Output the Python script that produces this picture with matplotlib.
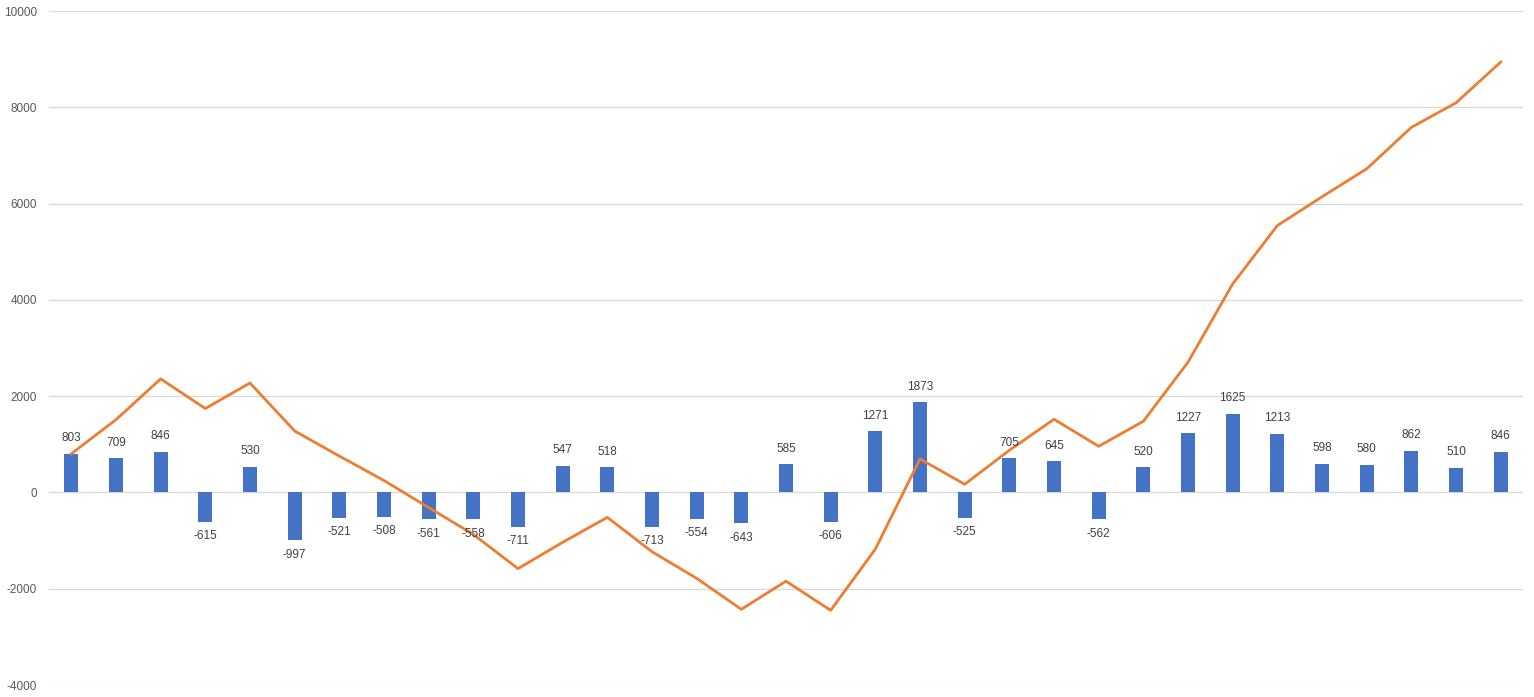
import numpy as np
import matplotlib.pyplot as plt

plt.rcParams['font.family'] = ['Liberation Sans', 'DejaVu Sans']
plt.rcParams['axes.unicode_minus'] = False

# monthly result (bars) and running total (line)
vals = [803, 709, 846, -615, 530, -997, -521, -508, -561, -558, -711,
        547, 518, -713, -554, -643, 585, -606, 1271, 1873, -525, 705,
        645, -562, 520, 1227, 1625, 1213, 598, 580, 862, 510, 846]
total = [803, 1512, 2358, 1743, 2273, 1276, 755, 247, -314, -872, -1583,
         -1036, -518, -1231, -1785, -2428, -1843, -2449, -1178, 695, 170,
         875, 1520, 958, 1478, 2705, 4330, 5543, 6141, 6721, 7583, 8093, 8939]
yticks = [-4000, -2000, 0, 2000, 4000, 6000, 8000, 10000]

x = np.arange(len(vals))

fig = plt.figure(figsize=(15.34, 6.97), dpi=100)
ax = fig.add_axes([49/1534, 12/697, (1523-49)/1534, (685-11)/697])

ax.bar(x, vals, width=0.31, color='#4472C4', zorder=2)
ax.plot(x, total, color='#ED7D31', lw=2.0, zorder=3, solid_joinstyle='round')

for xi, v in zip(x, vals):
    if v >= 0:
        ax.annotate(str(v), (xi, v), xytext=(0, 7), textcoords='offset points',
                    ha='center', va='bottom', fontsize=8.5, color='#404040')
    else:
        ax.annotate(str(v), (xi, v), xytext=(0, -6), textcoords='offset points',
                    ha='center', va='top', fontsize=8.5, color='#404040')

ax.set_xlim(-0.5, len(vals) - 0.5)
ax.set_ylim(-4000, 10000)
ax.set_yticks(yticks)
ax.set_xticks([])
ax.grid(axis='y', color='#d9d9d9', lw=0.9, zorder=0)
ax.set_axisbelow(True)
for s in ax.spines.values():
    s.set_visible(False)
ax.tick_params(axis='y', length=0, labelsize=8.5, labelcolor='#595959', pad=8.5)

fig.savefig('out.png', dpi=100)
